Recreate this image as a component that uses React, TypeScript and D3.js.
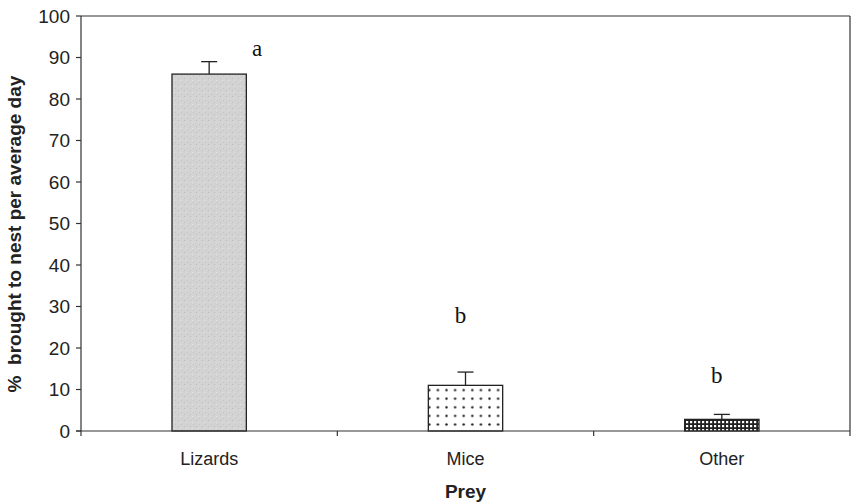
import * as React from "react";
import * as d3 from "d3";

const categories = ["Lizards", "Mice", "Other"];
const means = [86, 11, 2.8];
const errors = [3, 3.2, 1.2];
const letters = ["a", "b", "b"];
const letterLevels = [90.3, 26, 11.5];
const yTicks = [0, 10, 20, 30, 40, 50, 60, 70, 80, 90, 100];
const fills = ["url(#speckle)", "url(#dots)", "url(#dense)"];

export default function App() {
  const W = 856;
  const H = 503;
  const margin = { top: 16, right: 6, bottom: 72, left: 81 };
  const width = W - margin.left - margin.right;
  const height = H - margin.top - margin.bottom;

  const x = d3.scaleBand().domain(categories).range([0, width]).padding(0);
  const y = d3.scaleLinear().domain([0, 100]).range([height, 0]);
  const barW = x.bandwidth() * 0.29;
  const capW = 16;
  const sans = "'Liberation Sans', Arial, sans-serif";

  return (
    <svg width={W} height={H} style={{ position: "absolute", left: 0, top: 0, background: "#fff" }}>
      <defs>
        <pattern id="speckle" width="6" height="6" patternUnits="userSpaceOnUse">
          <rect width="6" height="6" fill="#d3d3d3" />
          <rect x="1" y="2" width="1" height="1" fill="#bdbdbd" />
          <rect x="4" y="0" width="1" height="1" fill="#c4c4c4" />
          <rect x="3" y="4" width="1" height="1" fill="#e2e2e2" />
        </pattern>
        <pattern id="dots" width="8.6" height="8.6" patternUnits="userSpaceOnUse">
          <rect width="8.6" height="8.6" fill="#fff" />
          <circle cx="4.3" cy="4.3" r="1.2" fill="#222" />
        </pattern>
        <pattern id="dense" width="4" height="4" patternUnits="userSpaceOnUse">
          <rect width="4" height="4" fill="#222" />
          <rect x="1" y="1" width="2.2" height="2.2" fill="#fff" />
        </pattern>
      </defs>
      <g transform={`translate(${margin.left},${margin.top})`}>
        {/* frame */}
        <line x1={0} x2={width} y1={0} y2={0} stroke="#333" strokeWidth={1.2} />
        <line x1={width} x2={width} y1={0} y2={height} stroke="#333" strokeWidth={1.2} />
        {/* bars */}
        {categories.map((c, i) => {
          const cx = (x(c) as number) + x.bandwidth() / 2;
          return (
            <g key={c}>
              <line x1={cx} x2={cx} y1={y(means[i])} y2={y(means[i] + errors[i])} stroke="#222" strokeWidth={1.3} />
              <line x1={cx - capW / 2} x2={cx + capW / 2} y1={y(means[i] + errors[i])} y2={y(means[i] + errors[i])} stroke="#222" strokeWidth={1.3} />
              <rect x={cx - barW / 2} y={y(means[i])} width={barW} height={height - y(means[i])} fill={fills[i]} stroke="#222" strokeWidth={1.3} />
              <text x={i === 0 ? cx + 48 : cx - 5} y={y(letterLevels[i])} textAnchor="middle" fontFamily="'Liberation Serif', 'DejaVu Serif', serif" fontSize={23} fill="#111">
                {letters[i]}
              </text>
              <text x={cx} y={height + 34} textAnchor="middle" fontFamily={sans} fontSize={18} fill="#222">
                {c}
              </text>
            </g>
          );
        })}
        {/* y axis */}
        <line x1={0} x2={0} y1={0} y2={height + 5} stroke="#333" strokeWidth={1.2} />
        {yTicks.map((t) => (
          <g key={t} transform={`translate(0,${y(t)})`}>
            <line x1={-5} x2={0} stroke="#333" strokeWidth={1.2} />
            <text x={-11} dy="0.35em" textAnchor="end" fontFamily={sans} fontSize={19} fill="#222">
              {t}
            </text>
          </g>
        ))}
        {/* x axis */}
        <line x1={-5} x2={width} y1={height} y2={height} stroke="#333" strokeWidth={1.2} />
        {categories.map((c) => (
          <line key={c} x1={(x(c) as number) + x.bandwidth()} x2={(x(c) as number) + x.bandwidth()} y1={height} y2={height + 5} stroke="#333" strokeWidth={1.2} />
        ))}
        <text x={width / 2} y={height + 67} textAnchor="middle" fontFamily={sans} fontSize={19} fontWeight="bold" fill="#222">
          Prey
        </text>
        <text transform={`translate(${-60},${218}) rotate(-90)`} textAnchor="middle" fontFamily={sans} fontSize={19} fontWeight="bold" fill="#222" style={{ whiteSpace: "pre" }}>
          {"%  brought to nest per average day"}
        </text>
      </g>
    </svg>
  );
}
